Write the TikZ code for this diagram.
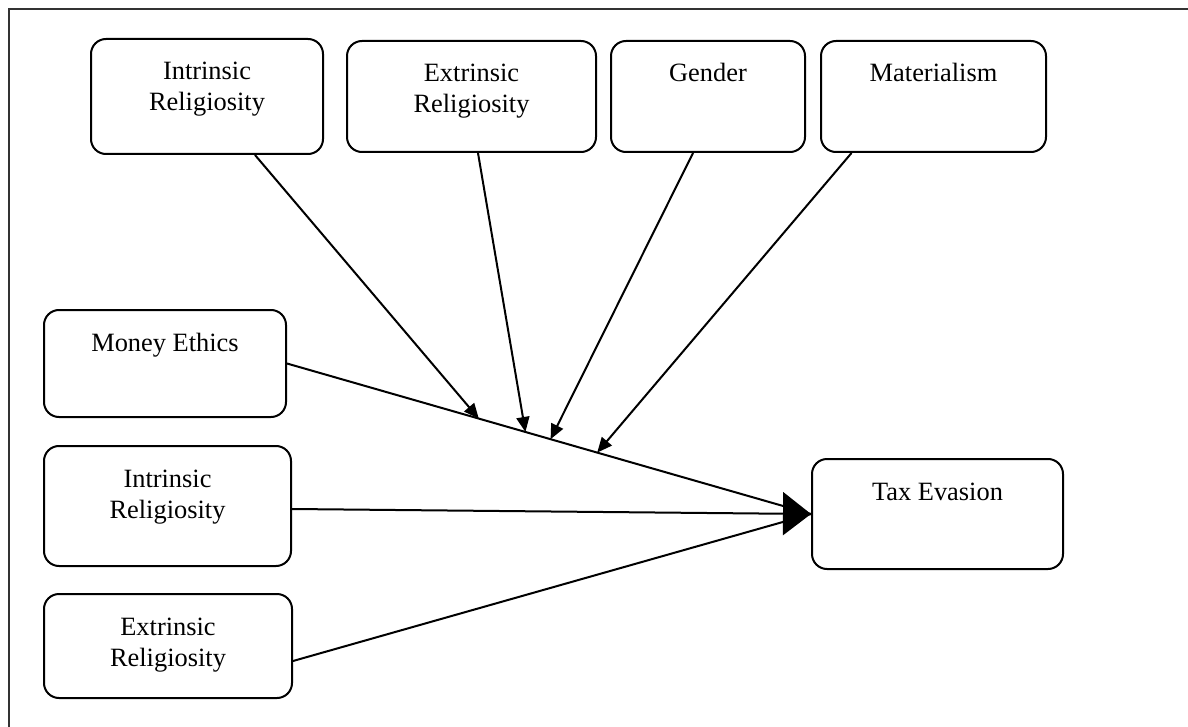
\documentclass[tikz,border=0pt]{standalone}
\usepackage{fontspec}
\setmainfont{Liberation Serif}
\usetikzlibrary{arrows.meta,calc}
\newcommand{\boxtxt}[2]{\parbox[c][#1][t]{180pt}{\centering\rule{0pt}{41pt}#2}}
\begin{document}
\begin{tikzpicture}[x=1pt,y=-1pt,
  factor/.style={draw,line width=2pt,rounded corners=15pt,anchor=north,inner xsep=0pt,inner ysep=0pt,font=\fontsize{26.4}{31}\selectfont},
  link/.style={line width=2pt},
  moderate/.style={line width=2pt,-{Triangle[length=15pt,width=13pt]}}]
\useasboundingbox (0,0) rectangle (1188,727);
\draw[line width=2.5pt,black!80] (9,727) -- (9,9) -- (1188,9);
\node[factor,minimum width=232pt] (irTop) at (207,38) {\boxtxt{115pt}{Intrinsic\\Religiosity}};
\node[factor,minimum width=249pt] (erTop) at (471.5,40) {\boxtxt{111pt}{Extrinsic\\Religiosity}};
\node[factor,minimum width=194pt] (gender) at (708,40) {\boxtxt{111pt}{Gender}};
\node[factor,minimum width=225pt] (material) at (933.5,40) {\boxtxt{111pt}{Materialism}};
\node[factor,minimum width=242pt] (money) at (165,309) {\boxtxt{107pt}{Money Ethics}};
\node[factor,minimum width=247pt] (irLeft) at (167.5,445) {\boxtxt{120pt}{Intrinsic\\Religiosity}};
\node[factor,minimum width=248pt] (erLeft) at (168,593) {\boxtxt{104pt}{Extrinsic\\Religiosity}};
\node[factor,minimum width=251pt] (tax) at (937.5,458) {\boxtxt{110pt}{Tax Evasion}};
\coordinate (m1) at ($(money.east)!0.366!(tax.west)$);
\coordinate (m2) at ($(money.east)!0.455!(tax.west)$);
\coordinate (m3) at ($(money.east)!0.503!(tax.west)$);
\coordinate (m4) at ($(money.east)!0.592!(tax.west)$);
\draw[link] (money.east) -- (tax.west);
\draw[link,-{Triangle[length=28pt,width=43pt]}] ([yshift=-3pt]irLeft.east) -- (tax.west);
\draw[link] ([yshift=-15pt]erLeft.east) -- (tax.west);
\draw[moderate] ([xshift=48pt]irTop.south) -- (m1);
\draw[moderate] ([xshift=6.5pt]erTop.south) -- (m2);
\draw[moderate] ([xshift=-15pt]gender.south) -- (m3);
\draw[moderate] ([xshift=-82pt]material.south) -- (m4);
\end{tikzpicture}
\end{document}
